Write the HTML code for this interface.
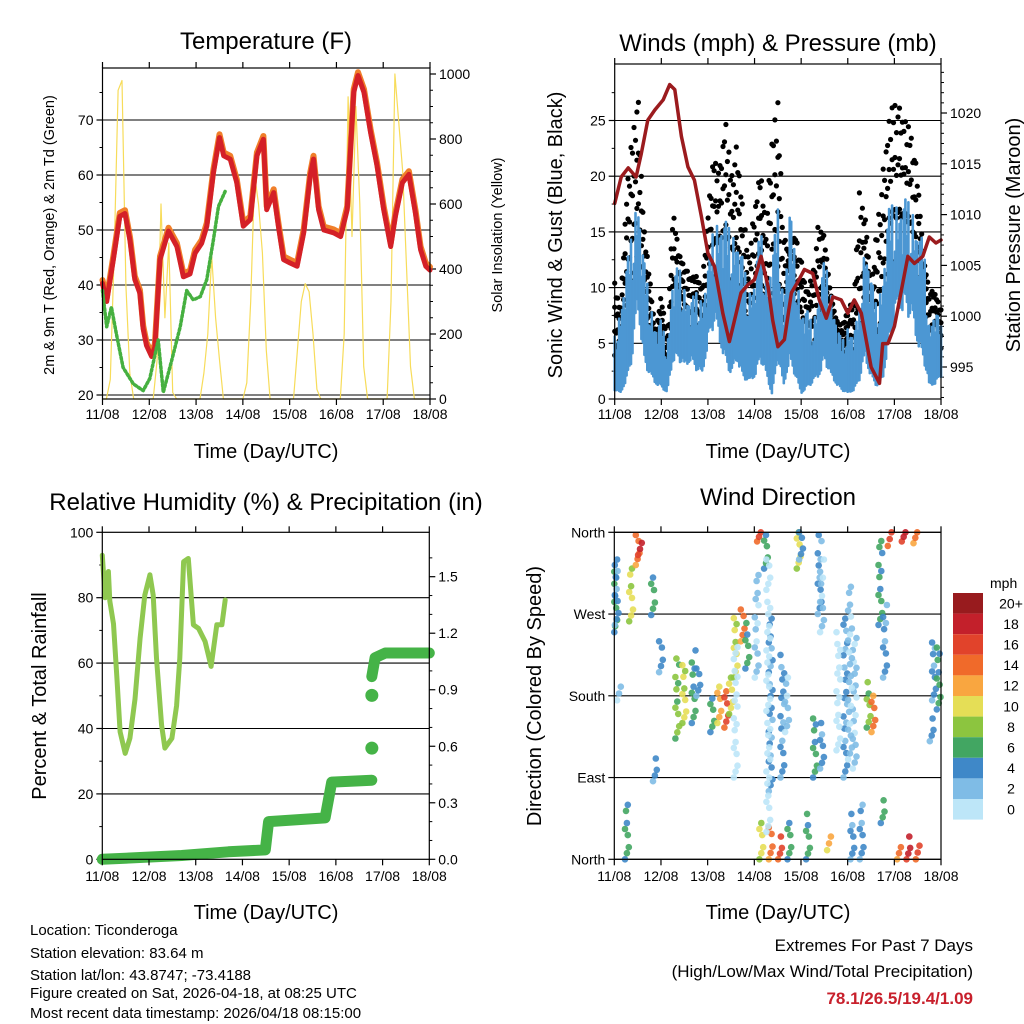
<!DOCTYPE html>
<html><head><meta charset="utf-8">
<style>
html,body{margin:0;padding:0;background:#fff;}
svg{display:block;font-family:"Liberation Sans",Arial,sans-serif;}
</style></head>
<body>
<svg id="svg" width="1024" height="1024" viewBox="0 0 1024 1024" xmlns="http://www.w3.org/2000/svg">
<rect width="1024" height="1024" fill="#fff"/>
<g id="g1"></g>
<g id="g2"></g>
<g id="g3"></g>
<g id="g4"></g>
<text x="266" y="49" font-size="24" text-anchor="middle">Temperature (F)</text>
<text x="778" y="51" font-size="24" text-anchor="middle">Winds (mph) &amp; Pressure (mb)</text>
<text x="266" y="510" font-size="24" text-anchor="middle">Relative Humidity (%) &amp; Precipitation (in)</text>
<text x="778" y="505" font-size="24" text-anchor="middle">Wind Direction</text>
<text x="266" y="458" font-size="20" text-anchor="middle">Time (Day/UTC)</text>
<text x="778" y="458" font-size="20" text-anchor="middle">Time (Day/UTC)</text>
<text x="266" y="919" font-size="20" text-anchor="middle">Time (Day/UTC)</text>
<text x="778" y="919" font-size="20" text-anchor="middle">Time (Day/UTC)</text>
<text transform="translate(54,235) rotate(-90)" font-size="14.5" text-anchor="middle">2m &amp; 9m T (Red, Orange) &amp; 2m Td (Green)</text>
<text transform="translate(502,235) rotate(-90)" font-size="14.5" text-anchor="middle">Solar Insolation (Yellow)</text>
<text transform="translate(562,235) rotate(-90)" font-size="20" text-anchor="middle">Sonic Wind &amp; Gust (Blue, Black)</text>
<text transform="translate(1020,235) rotate(-90)" font-size="20" text-anchor="middle">Station Pressure (Maroon)</text>
<text transform="translate(46,696) rotate(-90)" font-size="20" text-anchor="middle">Percent &amp; Total Rainfall</text>
<text transform="translate(541,696) rotate(-90)" font-size="20" text-anchor="middle">Direction (Colored By Speed)</text>
<g font-size="15">
<text x="30" y="935">Location: Ticonderoga</text>
<text x="30" y="958">Station elevation: 83.64 m</text>
<text x="30" y="980">Station lat/lon: 43.8747; -73.4188</text>
<text x="30" y="998">Figure created on Sat, 2026-04-18, at 08:25 UTC</text>
<text x="30" y="1018">Most recent data timestamp: 2026/04/18 08:15:00</text>
</g>
<text x="973" y="951" font-size="17" text-anchor="end">Extremes For Past 7 Days</text>
<text x="973" y="977" font-size="17" text-anchor="end">(High/Low/Max Wind/Total Precipitation)</text>
<text x="973" y="1004" font-size="17" font-weight="bold" fill="#c8202c" text-anchor="end">78.1/26.5/19.4/1.09</text>
<g id="cbar"></g>
</svg>
<script>
// ---------- DATA ----------
const dayLabels = ["11/08","12/08","13/08","14/08","15/08","16/08","17/08","18/08"];
const tempDays = [0,0.09,0.23,0.37,0.48,0.59,0.69,0.8,0.87,0.94,1.05,1.12,1.23,1.41,1.59,1.73,1.87,1.98,2.12,2.23,2.37,2.5,2.59,2.73,2.87,3.01,3.16,3.3,3.44,3.51,3.66,3.76,3.87,4.01,4.16,4.3,4.44,4.51,4.62,4.73,4.94,5.09,5.23,5.37,5.46,5.59,5.73,5.87,6.01,6.16,6.26,6.41,6.55,6.69,6.8,6.91,7.0];
const tempVals = [40.3,37,44.6,52.5,53,48,41,38.5,32,29,27,28.7,44.6,49.8,47,41.5,42,45.8,47.6,50.7,60.4,66.8,63.5,62.9,58.6,50.7,51.9,63.5,66.5,53.7,56.8,50.7,44.6,44,43.4,49.5,59.8,62.9,53.7,50,49.5,48.8,53.7,75,78.1,75,67.7,61.6,53.7,47,52.5,58.6,60.1,53,46.4,43.4,42.7];
const dewDays = [0,0.09,0.19,0.3,0.44,0.66,0.87,1.01,1.19,1.3,1.48,1.66,1.8,1.94,2.09,2.23,2.37,2.48,2.62];
const dewVals = [39,32.4,36,31,25,22,20.8,23,30,20.5,26.3,32.4,39,37.3,37.9,41,48.2,54.3,57];
const solarDaily = [
 [0,0,60,450,950,980,350,80,0,0,0,0],
 [0,0,120,600,250,480,20,0,0,0,0,0],
 [0,0,80,200,440,250,120,0,0,0,0,0],
 [0,50,300,690,600,450,150,0,0,0,0,0],
 [0,0,150,300,355,330,200,30,0,0,0,0],
 [0,0,200,930,500,900,600,100,0,0,0,0],
 [0,0,300,1000,850,700,400,100,0,0,0,0]];
const presDays = [0,0.14,0.29,0.46,0.57,0.71,0.86,1.04,1.18,1.29,1.43,1.57,1.71,1.86,2.0,2.14,2.32,2.46,2.57,2.71,2.86,3.0,3.14,3.29,3.39,3.5,3.64,3.79,3.93,4.07,4.25,4.39,4.54,4.68,4.86,5.0,5.14,5.29,5.5,5.68,5.75,5.86,6.0,6.14,6.29,6.43,6.61,6.75,6.89,7.0];
const presVals = [1011.1,1013.7,1014.6,1013.7,1016,1019.3,1020.3,1021.3,1022.8,1022.3,1017.7,1014.7,1013.4,1009.8,1006.2,1004.9,1000.3,997.5,999.6,1002.3,1003.1,1003.6,1005.9,1002.9,999.6,997,997.7,1002.3,1003.4,1004.6,1004.2,1001.6,999.8,1001.9,1001.6,1000.3,1001.6,1000.3,995,993.4,997.3,997.3,999,1002.3,1005.9,1005.2,1005.9,1007.8,1007.2,1007.5];
// 3-hourly wind samples (day = i*0.125)
const windHigh = [5.6,8,11.9,14.9,19,12.5,8.9,6.5,7.1,4.4,11.3,11.9,10,8.9,9.5,8.9,11.9,15.5,16.4,16,14.9,14.9,12.5,9.5,11,15.5,11,12.5,17,8,17.3,12.5,8,8,6.5,9.5,12.5,10,7.1,5,6.5,5.9,8,14.6,11,8,11,17,17.6,17.9,17.9,17.3,15.5,14,6.5,8.3,6.5];
const windLow = [0.8,0.5,1.7,3.5,8,3.5,2,1.4,1.1,0.5,3.5,3.5,2.6,3.5,2.6,2,5,6.5,5,3.5,2,3.5,2,1.4,2,3.5,2,0.5,3.5,1.1,3.5,2,0.5,1.1,1.4,2,3.5,2,1.4,0.8,0.5,0.8,1.7,3.5,2,1.1,1.7,5,6.5,8,8,6.5,5,3.5,1.1,1.4,2];
const gustVals = [10.4,8,18.5,23.6,27.5,15.5,11,5.6,9.5,5,17.6,13,11.9,11,11,10,17,21.8,20.6,25.4,20,23,17,12.5,17.3,20.6,15.5,24.2,26.6,14.9,12.5,14.9,12.5,9.5,11.3,16,14.6,9.5,7.1,6.5,8,8.9,18.5,16.4,9.5,15.5,20.3,25,26.9,26,25,23.6,20,12.5,9.8,9.5,8];
const rhDays = [0,0.06,0.13,0.16,0.24,0.31,0.38,0.49,0.59,0.7,0.81,0.91,1.02,1.09,1.16,1.27,1.34,1.49,1.59,1.66,1.74,1.84,1.95,2.06,2.2,2.33,2.45,2.56,2.63];
const rhVals = [93,80,88,79,72,56,39,32.4,37,49,67.6,80.8,87,80.8,61.5,41,34,37,47,61.5,91,92,71.7,70.6,66.6,59,71.7,71.7,79.3];
const precipDays = [0,1.7,2.7,3.49,3.56,4.77,4.91,5.77];
const precipVals = [0,0.02,0.04,0.05,0.2,0.22,0.41,0.42];
const precipLateDays = [5.77,5.84,6.06,7.0];
const precipLateVals = [0.97,1.07,1.095,1.095];
const precipJumpDays = [5.77,5.77];
const precipJumpVals = [0.59,0.87];
// wind direction clusters: day, dirLow, dirHigh, speed
const dirDays  = [0.02,0.05,0.36,0.5,0.55,0.83,0.27,1.0,0.87,1.35,1.5,1.7,1.8,2.1,2.25,2.4,2.5,2.6,2.75,2.85,3.05,3.1,3.25,3.35,3.6,3.7,3.15,3.35,3.55,3.75,3.95,4.0,4.3,4.45,4.15,4.6,4.4,4.45,4.95,5.15,5.1,5.3,5.45,5.55,5.7,5.8,5.9,6.2,6.45,6.1,6.3,6.5,6.85,6.95,6.8,5.75,0.1,2.6,4.8,3.3,5.05];
const dirLow   = [250,258,262,324,335,269,0,206,86,133,150,150,180,140,150,145,160,200,240,210,200,350,320,75,90,140,0,0,0,0,320,330,90,100,0,10,270,250,90,100,0,0,145,140,258,200,345,350,348,0,0,0,175,165,130,40,175,90,120,30,110];
const dirHigh  = [330,324,320,357,355,317,60,240,111,221,220,230,210,177,190,185,200,272,275,260,313,360,357,265,225,200,40,35,25,40,360,360,155,150,50,25,357,330,265,250,50,60,195,180,357,280,360,360,360,20,25,15,245,240,155,65,190,240,250,330,300];
const dirSpeed = [6,4,10,14,18,6,6,4,4,8,10,6,4,6,12,16,10,10,14,6,2,16,6,4,4,2,10,14,16,6,10,4,6,4,6,12,4,2,4,2,4,4,8,14,6,4,16,18,14,14,18,16,4,6,4,6,2,0,0,0,2];
const speedLevels = ["0","2","4","6","8","10","12","14","16","18","20+"];
const speedColors = ["#bde6f8","#7fbce6","#3f88c8","#42a662","#8cc53f","#e5de56","#f9a640","#f06a2a","#e1432b","#c3202b","#981b1e"];

// ---------- HELPERS ----------
const NS="http://www.w3.org/2000/svg";
function mk(parent,tag,attrs){const e=document.createElementNS(NS,tag);for(const k in attrs)e.setAttribute(k,attrs[k]);parent.appendChild(e);return e;}
function makeX(x0,x1){return d=>x0+(x1-x0)*d/7;}
function makeY(v0,y0,v1,y1){return v=>y0+(v-v0)*(y1-y0)/(v1-v0);}
function interp(arr,t){const i=Math.min(arr.length-2,Math.floor(t));const f=t-i;return arr[i]*(1-f)+arr[i+1]*f;}
function frame(g,x0,x1,yt,yb,name){
  const r=mk(g,'rect',{x:x0,y:yt,width:x1-x0,height:yb-yt,fill:'none',stroke:'#000','stroke-width':1.2});
  
  
}
function xAxis(g,x0,x1,yt,yb,labY,name){
  const X=makeX(x0,x1);
  for(let i=0;i<dayLabels.length;i++){
    const x=X(i);
    const t1=mk(g,'line',{x1:x,x2:x,y1:yb,y2:yb+6,stroke:'#000','stroke-width':1.2});
    
    
    const t2=mk(g,'line',{x1:x,x2:x,y1:yt,y2:yt-6,stroke:'#000','stroke-width':1.2});
    
    
    const tx=mk(g,'text',{x:x,y:labY,'font-size':14,'text-anchor':'middle'});
    tx.textContent=dayLabels[i];
    
    
  }
}
function yAxis(g,Y,vals,labels,side,xEdge,grid,x0,x1,name,minor){
  if(minor){for(const v of minor){const y=Y(v);
    const m=mk(g,'line',{x1:xEdge,x2:xEdge+(side==='left'?-3:3),y1:y,y2:y,stroke:'#000','stroke-width':1});
    
    }}
  vals.forEach((v,i)=>{const y=Y(v);
    if(grid){const gl=mk(g,'line',{x1:x0,x2:x1,y1:y,y2:y,stroke:'#000','stroke-width':1.1});
      
      }
    const t=mk(g,'line',{x1:xEdge,x2:xEdge+(side==='left'?-6:6),y1:y,y2:y,stroke:'#000','stroke-width':1.2});
    
    
    const tx=mk(g,'text',{x:xEdge+(side==='left'?-9:9),y:y+5,'font-size':14,'text-anchor':side==='left'?'end':'start'});
    tx.textContent=labels[i];
    
    
  });
}
function poly(g,X,Y,ds,vs,color,w,name){
  const pts=ds.map((d,i)=>X(d).toFixed(1)+','+Y(vs[i]).toFixed(1)).join(' ');
  const p=mk(g,'polyline',{points:pts,fill:'none',stroke:color,'stroke-width':w,'stroke-linejoin':'round','stroke-linecap':'round'});
  
  
  return p;
}

// ---------- PANEL 1 ----------
(function(){
  const g=document.getElementById('g1');
  const x0=102.5,x1=430,yt=68,yb=399;
  const X=makeX(x0,x1);
  const Y=makeY(20,395,70,120);
  const S=makeY(0,399,1000,74);
  yAxis(g,Y,[20,30,40,50,60,70],["20","30","40","50","60","70"],'left',x0,true,x0,x1,'temp-axis',[25,35,45,55,65,75]);
  yAxis(g,S,[0,200,400,600,800,1000],["0","200","400","600","800","1000"],'right',x1,false,x0,x1,'solar-axis',[50,100,150,250,300,350,450,500,550,650,700,750,850,900,950]);
  const sd=[],sv=[];
  solarDaily.forEach((arr,di)=>arr.forEach((v,h)=>{sd.push(di+h*2/24);sv.push(v);}));
  poly(g,X,S,sd,sv,'#f7dc5a',1.2,'solar-insolation-line');
  poly(g,X,Y,tempDays,tempVals.map(v=>v+0.6),'#f07f2a',6,'temperature-9m-line');
  poly(g,X,Y,tempDays,tempVals,'#d42027',5,'temperature-2m-line');
  const dl=poly(g,X,Y,dewDays,dewVals,'#46b040',3.5,'dewpoint-line');
  dl.setAttribute('stroke-dasharray','2 2.5');
  frame(g,x0,x1,yt,yb,'temperature');
  xAxis(g,x0,x1,yt,yb,419,'temperature');
})();

// ---------- PANEL 2 ----------
(function(){
  const g=document.getElementById('g2');
  const x0=614.7,x1=941,yt=64,yb=399;
  const X=makeX(x0,x1);
  const W=makeY(0,399,25,120.5);
  const P=makeY(1020,113,995,367);
  yAxis(g,W,[0,5,10,15,20,25],["0","5","10","15","20","25"],'left',x0,true,x0,x1,'wind-axis',[2.5,7.5,12.5,17.5,22.5,27.5]);
  yAxis(g,P,[995,1000,1005,1010,1015,1020],["995","1000","1005","1010","1015","1020"],'right',x1,false,x0,x1,'pressure-axis',[992,993,994,996,997,998,999,1001,1002,1003,1004,1006,1007,1008,1009,1011,1012,1013,1014,1016,1017,1018,1019,1021,1022,1023,1024]);
  const n=windHigh.length;
  const steps=220;
  const tex=[1,0.8,0.95,0.7,0.88,1,0.75,0.9,0.82,0.97,0.72];
  // gust dots
  for(let k=0;k<=steps;k++){
    const t=k*(n-1)/steps, d=t*0.125;
    const hiW=interp(windHigh,t), gu=interp(gustVals,t);
    const top=hiW+(gu-hiW)*tex[k%tex.length];
    for(let j=0;j<4;j++){
      const v=hiW*0.7+(top-hiW*0.7)*(j/3);
      const c=mk(g,'circle',{cx:X(d).toFixed(1),cy:W(v).toFixed(1),r:2.6,fill:'#000'});
      
      
    }
  }
  // wind band
  for(let k=0;k<=steps;k++){
    const t=k*(n-1)/steps, d=t*0.125;
    const hi=interp(windHigh,t)*tex[(k*3)%tex.length], lo=interp(windLow,t)*(2-tex[(k*7)%tex.length]);
    const l=mk(g,'line',{x1:X(d).toFixed(1),x2:X(d).toFixed(1),y1:W(lo).toFixed(1),y2:W(hi).toFixed(1),stroke:'#4c97d3','stroke-width':2.6,'stroke-linecap':'round'});
    
    
  }
  poly(g,X,P,presDays,presVals,'#9b1b1e',3.5,'station-pressure-line');
  frame(g,x0,x1,yt,yb,'winds');
  xAxis(g,x0,x1,yt,yb,419,'winds');
})();

// ---------- PANEL 3 ----------
(function(){
  const g=document.getElementById('g3');
  const x0=102.3,x1=429.3,yt=532.3,yb=859.3;
  const X=makeX(x0,x1);
  const R=makeY(0,859.3,100,532.3);
  const Pr=makeY(0,859.3,1.5,576.7);
  yAxis(g,R,[0,20,40,60,80,100],["0","20","40","60","80","100"],'left',x0,false,x0,x1,'rh-axis',[10,30,50,70,90]);
  [20,40,60,80].forEach(v=>{const gl=mk(g,'line',{x1:x0,x2:x1,y1:R(v),y2:R(v),stroke:'#000','stroke-width':1.1});
    
    });
  yAxis(g,Pr,[0,0.3,0.6,0.9,1.2,1.5],["0.0","0.3","0.6","0.9","1.2","1.5"],'right',x1,false,x0,x1,'precip-axis',[0.1,0.2,0.4,0.5,0.7,0.8,1.0,1.1,1.3,1.4,1.6]);
  poly(g,X,R,rhDays,rhVals,'#8fc850',5,'relative-humidity-line');
  poly(g,X,Pr,precipDays,precipVals,'#45b347',11,'precipitation-line');
  poly(g,X,Pr,precipLateDays,precipLateVals,'#45b347',11,'precipitation-line-late');
  precipJumpDays.forEach((d,i)=>{const c=mk(g,'circle',{cx:X(d),cy:Pr(precipJumpVals[i]),r:6.5,fill:'#45b347'});
    
    });
  frame(g,x0,x1,yt,yb,'humidity');
  xAxis(g,x0,x1,yt,yb,881,'humidity');
})();

// ---------- PANEL 4 ----------
(function(){
  const g=document.getElementById('g4');
  const x0=614.3,x1=941,yt=532.3,yb=859.3;
  const X=makeX(x0,x1);
  const D=makeY(0,859.3,360,532.3);
  yAxis(g,D,[0,90,180,270,360],["North","East","South","West","North"],'left',x0,true,x0,x1,'direction-axis',null);
  for(let i=0;i<dirDays.length;i++){
    const lo=dirLow[i],hi=dirHigh[i];
    const steps=Math.max(1,Math.round((D(lo)-D(hi))/6));
    const ci=Math.min(10,Math.round(dirSpeed[i]/2));
    for(let k=0;k<=steps;k++){
      if(k%4===3) continue;
      const v=lo+(hi-lo)*k/steps;
      const off=((k*7)%5-2)*0.02;
      const c=mk(g,'circle',{cx:X(Math.max(0,Math.min(7,dirDays[i]+off))).toFixed(1),cy:D(v).toFixed(1),r:3.3,fill:speedColors[Math.max(0,ci-(k%3===0?1:0))],'fill-opacity':0.9});
      
      
    }
  }
  frame(g,x0,x1,yt,yb,'wind-direction');
  xAxis(g,x0,x1,yt,yb,881,'wind-direction');
  const cb=document.getElementById('cbar');
  const bx=953,bw=30,btop=593,bh=20.6;
  const mt=mk(cb,'text',{x:990,y:588,'font-size':14});
  mt.textContent='mph';
  
  
  for(let i=0;i<speedLevels.length;i++){
    const idx=speedLevels.length-1-i;
    const r=mk(cb,'rect',{x:bx,y:btop+i*bh,width:bw,height:bh,fill:speedColors[idx]});
    
    
    const t=mk(cb,'text',{x:1011,y:btop+i*bh+bh/2+5,'font-size':14,'text-anchor':'middle'});
    t.textContent=speedLevels[idx];
    
    
  }
})();
</script>
</body></html>
